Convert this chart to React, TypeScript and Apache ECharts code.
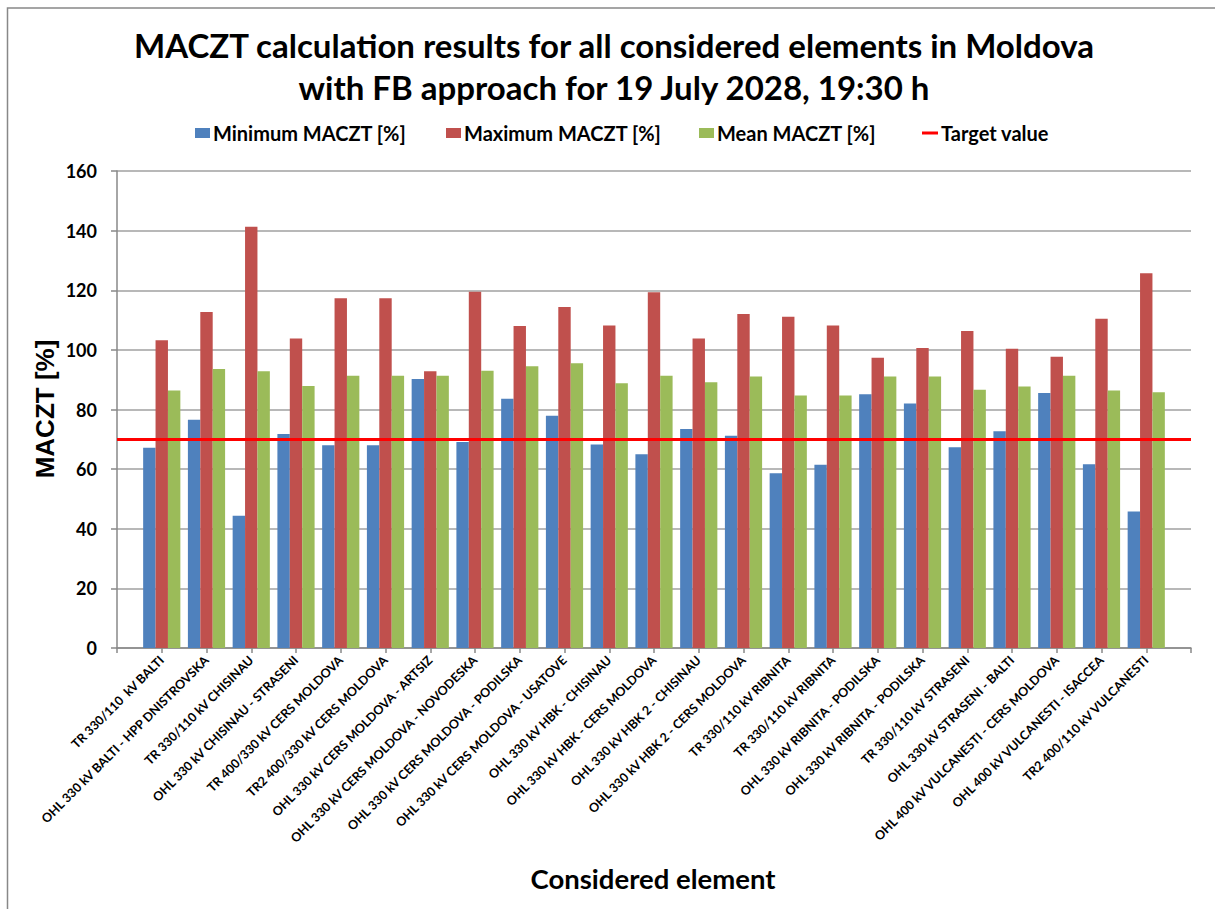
import React, { useEffect, useRef } from "react";
import * as echarts from "echarts";

const categories: string[] = [
  "TR 330/110  kV BALTI",
  "OHL 330 kV BALTI - HPP DNISTROVSKA",
  "TR 330/110 kV CHISINAU",
  "OHL 330 kV CHISINAU - STRASENI",
  "TR 400/330 kV CERS MOLDOVA",
  "TR2 400/330 kV CERS MOLDOVA",
  "OHL 330 kV CERS MOLDOVA - ARTSIZ",
  "OHL 330 kV CERS MOLDOVA - NOVODESKA",
  "OHL 330 kV CERS MOLDOVA - PODILSKA",
  "OHL 330 kV CERS MOLDOVA - USATOVE",
  "OHL 330 kV HBK - CHISINAU",
  "OHL 330 kV HBK - CERS MOLDOVA",
  "OHL 330 kV HBK 2 - CHISINAU",
  "OHL 330 kV HBK 2 - CERS MOLDOVA",
  "TR 330/110 kV RIBNITA",
  "TR 330/110 kV RIBNITA",
  "OHL 330 kV RIBNITA - PODILSKA",
  "OHL 330 kV RIBNITA - PODILSKA",
  "TR 330/110 kV STRASENI",
  "OHL 330 kV STRASENI - BALTI",
  "OHL 400 kV VULCANESTI - CERS MOLDOVA",
  "OHL 400 kV VULCANESTI - ISACCEA",
  "TR2 400/110 kV VULCANESTI",
];

const minValues: number[] = [
  67.2, 76.6, 44.4, 71.8, 68.0, 68.0, 90.2, 69.1, 83.6, 77.9, 68.3, 65.0,
  73.5, 71.2, 58.6, 61.5, 85.1, 82.0, 67.3, 72.7, 85.5, 61.6, 45.8,
];
const maxValues: number[] = [
  103.2, 112.7, 141.3, 103.8, 117.3, 117.3, 92.8, 119.5, 108.0, 114.4, 108.2, 119.3,
  103.8, 112.0, 111.1, 108.2, 97.4, 100.6, 106.3, 100.4, 97.7, 110.4, 125.7,
];
const meanValues: number[] = [
  86.4, 93.6, 92.8, 87.9, 91.3, 91.3, 91.3, 93.0, 94.5, 95.5, 88.8, 91.3,
  89.1, 91.1, 84.7, 84.7, 91.1, 91.1, 86.6, 87.7, 91.3, 86.4, 85.8,
];
const targetValue = 70;

const yTicks = { min: 0, max: 160, interval: 20 };

const seriesNames = ["Minimum MACZT [%]", "Maximum MACZT [%]", "Mean MACZT [%]", "Target value"];
const colors = ["#4F81BD", "#C0504D", "#9BBB59", "#FF0000"];

const FONT = "Lato, 'Noto Sans', sans-serif";

export default function App() {
  const ref = useRef<HTMLDivElement>(null);
  useEffect(() => {
    if (!ref.current) return;
    const chart = echarts.init(ref.current, undefined, { renderer: "svg" });
    const axisCats = ["", ...categories, ""];
    const pad = (arr: number[]) => [null, ...arr, null];
    const legendLefts = [190, 441, 694, 917];
    const barCommon = {
      type: "bar" as const,
      barWidth: 12.4,
      barGap: "0%",
    };
    chart.setOption({
      animation: false,
      backgroundColor: "#ffffff",
      textStyle: { fontFamily: FONT },
      grid: { left: 117, right: 24, top: 171, bottom: 261, containLabel: false },
      legend: seriesNames.map((n, i) => ({
        data: [{ name: n, icon: "rect" }],
        left: legendLefts[i],
        top: 118,
        itemWidth: i === 3 ? 16 : 15,
        itemHeight: i === 3 ? 3 : 10,
        itemGap: 0,
        selectedMode: false,
        textStyle: { fontSize: 20, fontWeight: "bold", color: "#000", fontFamily: FONT, padding: [0, 0, 0, -2] },
      })),
      xAxis: {
        type: "category",
        data: axisCats,
        boundaryGap: false,
        axisLine: { lineStyle: { color: "#888888", width: 1.5 } },
        axisTick: { show: true, interval: 0, length: 5, lineStyle: { color: "#888888", width: 1.5 } },
        axisLabel: {
          interval: 0,
          rotate: 45,
          margin: 10,
          fontSize: 12.5,
          fontWeight: "bold",
          color: "#000",
          fontFamily: FONT,
        },
        splitLine: { show: false },
      },
      yAxis: {
        type: "value",
        min: yTicks.min,
        max: yTicks.max,
        interval: yTicks.interval,
        axisLine: { show: true, lineStyle: { color: "#888888", width: 1.5 } },
        axisTick: { show: true, length: 6, lineStyle: { color: "#888888", width: 1.5 } },
        axisLabel: { fontSize: 18, fontWeight: "bold", color: "#000", margin: 20, fontFamily: FONT },
        splitLine: { show: true, lineStyle: { color: "#A0A0A0", width: 1.5 } },
      },
      series: [
        { ...barCommon, name: seriesNames[0], data: pad(minValues), itemStyle: { color: colors[0] } },
        { ...barCommon, name: seriesNames[1], data: pad(maxValues), itemStyle: { color: colors[1] } },
        { ...barCommon, name: seriesNames[2], data: pad(meanValues), itemStyle: { color: colors[2] } },
        {
          type: "line",
          name: seriesNames[3],
          data: [],
          symbol: "none",
          itemStyle: { color: colors[3] },
          lineStyle: { color: colors[3], width: 3 },
          markLine: {
            silent: true,
            symbol: "none",
            label: { show: false },
            lineStyle: { color: colors[3], width: 3, type: "solid" },
            data: [{ yAxis: targetValue }],
          },
          z: 5,
        },
      ],
      graphic: [
        {
          type: "polyline",
          shape: { points: [[7.5, 909], [7.5, 8], [1215, 8]] },
          style: { stroke: "#888888", lineWidth: 1.5, fill: "none" },
        },
        {
          type: "text",
          x: 614,
          y: 45,
          style: {
            text: "MACZT calculation results for all considered elements in Moldova",
            font: `bold 33px ${FONT}`,
            fill: "#000",
            textAlign: "center",
            textVerticalAlign: "middle",
          },
        },
        {
          type: "text",
          x: 614,
          y: 87,
          style: {
            text: "with FB approach for 19 July 2028, 19:30 h",
            font: `bold 33px ${FONT}`,
            fill: "#000",
            textAlign: "center",
            textVerticalAlign: "middle",
          },
        },
        {
          type: "text",
          x: 45,
          y: 409,
          rotation: Math.PI / 2,
          style: {
            text: "MACZT [%]",
            font: "bold 26px 'Liberation Sans', Arial, sans-serif",
            fill: "#000",
            textAlign: "center",
            textVerticalAlign: "middle",
          },
        },
        {
          type: "text",
          x: 653,
          y: 878,
          style: {
            text: "Considered element",
            font: `bold 27.5px ${FONT}`,
            fill: "#000",
            textAlign: "center",
            textVerticalAlign: "middle",
          },
        },
      ],
    });
    return () => chart.dispose();
  }, []);
  return (
    <div
      ref={ref}
      style={{ position: "absolute", left: 0, top: 0, width: 1215, height: 909, background: "#fff" }}
    />
  );
}
